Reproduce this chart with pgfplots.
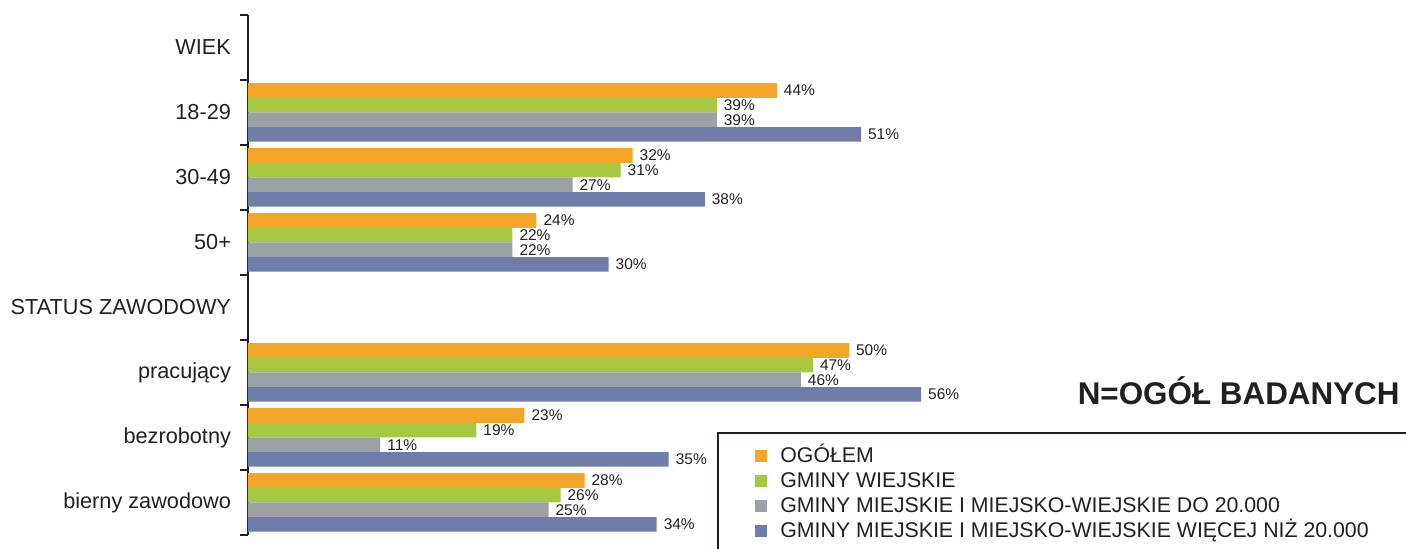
\documentclass[border=0pt]{standalone}
\usepackage{pgfplots}
\pgfplotsset{compat=1.18}
\usepackage{fontspec}
\setmainfont{Liberation Sans}

\definecolor{cOrange}{RGB}{243,165,42}
\definecolor{cGreen}{RGB}{166,200,64}
\definecolor{cGray}{RGB}{155,161,167}
\definecolor{cBlue}{RGB}{111,125,170}
\definecolor{txt}{RGB}{35,31,32}

\begin{document}
\begin{tikzpicture}
    \begin{axis}[
        at={(124pt,7pt)}, anchor=south west,
        scale only axis, width=360.6pt, height=260pt,
        xmin=0, xmax=60, ymin=-0.5, ymax=7.5,
        xbar, bar width=0.225,
        axis x line=none, axis y line=left,
        axis line style={-, line width=0.75pt, txt},
        ytick={0,...,7},
        yticklabels={bierny zawodowo, bezrobotny, pracujący\ , STATUS ZAWODOWY, 50+, 30-49, 18-29, WIEK},
        major tick length=0pt,
        minor ytick={-0.5,0.5,...,7.5},
        minor tick length=4pt, tick align=outside,
        minor tick style={line width=0.75pt, txt},
        yticklabel style={font=\fontsize{10.85}{12}\selectfont, text=txt, xshift=-5pt},
        nodes near coords={\pgfmathprintnumber[assume math mode=true]{\pgfplotspointmeta}\%},
        every node near coord/.append style={font=\fontsize{7.75}{9}\selectfont, text=txt},
        clip=false,
        legend cell align=left,
        legend image code/.code={\fill[#1] (0pt,-3pt) rectangle (6pt,3pt);},
        legend style={at={(axis description cs:0.703,0.171)}, anchor=north west,
            draw=none, fill=none, inner sep=0pt, row sep=2.5pt,
            font=\fontsize{10.65}{12}\selectfont, text=txt,
            nodes={inner sep=0pt, text height=8pt, text depth=2pt},
            /tikz/every odd column/.style={column sep=6.5pt}},
    ]
        \addplot[draw=none, fill=cOrange, bar shift=0.3375] coordinates {(44,6) (32,5) (24,4) (50,2) (23,1) (28,0)};
        \addplot[draw=none, fill=cGreen, bar shift=0.1125] coordinates {(39,6) (31,5) (22,4) (47,2) (19,1) (26,0)};
        \addplot[draw=none, fill=cGray, bar shift=-0.1125] coordinates {(39,6) (27,5) (22,4) (46,2) (11,1) (25,0)};
        \addplot[draw=none, fill=cBlue, bar shift=-0.3375] coordinates {(51,6) (38,5) (30,4) (56,2) (35,1) (34,0)};
        \legend{OGÓŁEM, GMINY WIEJSKIE, GMINY MIEJSKIE I MIEJSKO-WIEJSKIE DO 20.000, GMINY MIEJSKIE I MIEJSKO-WIEJSKIE WIĘCEJ NIŻ 20.000}
    \end{axis}
    \draw[line width=0.75pt, txt] (720pt,-10pt) -- (359pt,-10pt) -- (359pt,58pt) -- (720pt,58pt);
    \node[anchor=east, font=\bfseries\fontsize{15.7}{18}\selectfont, text=txt, inner sep=0pt] at (700pt,79pt) {N=OGÓŁ BADANYCH};
    \pgfresetboundingbox
    \path (0pt,0pt) rectangle (703pt,274.5pt);
\end{tikzpicture}
\end{document}
